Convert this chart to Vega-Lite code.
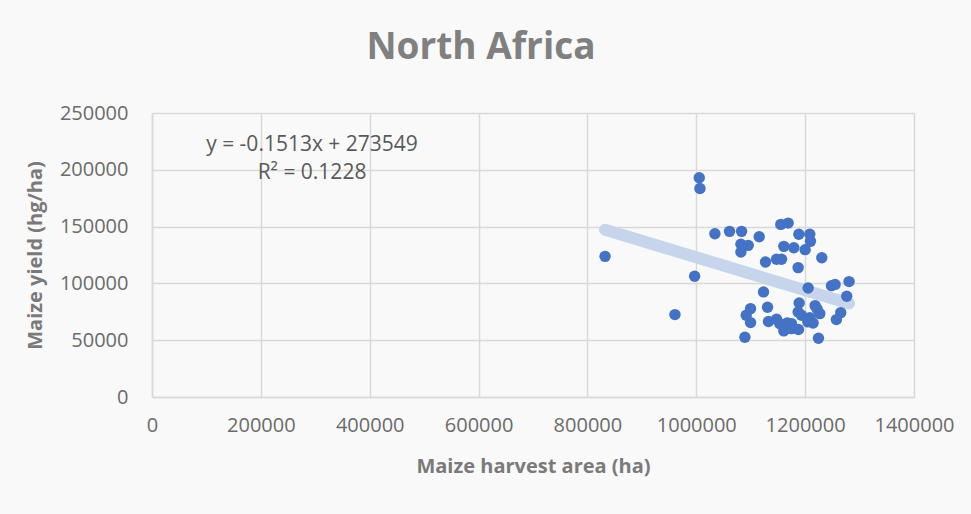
{
  "$schema": "https://vega.github.io/schema/vega-lite/v6.json",
  "autosize": {"type": "none"},
  "width": 762,
  "height": 284,
  "padding": {"left": 152, "top": 113, "right": 57, "bottom": 117},
  "background": "#f9f9f9",
  "config": {
    "font": "Open Sans",
    "view": {"stroke": null},
    "axis": {
      "gridColor": "#d9d9d9",
      "gridWidth": 1.5,
      "domainColor": "#d9d9d9",
      "domainWidth": 1.5,
      "ticks": false,
      "labelOverlap": false,
      "labelFlush": false,
      "labelFont": "Open Sans",
      "labelFontSize": 20,
      "labelColor": "#6b6b6b",
      "titleFont": "Open Sans",
      "titleFontSize": 20,
      "titleFontWeight": "bold",
      "titleColor": "#7a7a7a"
    }
  },
  "title": {
    "text": "North Africa",
    "font": "Open Sans",
    "fontSize": 37,
    "fontWeight": "bold",
    "color": "#808080",
    "anchor": "middle",
    "frame": "group",
    "dx": -52,
    "baseline": "alphabetic",
    "offset": 7
  },
  "datasets": {
    "points": [
      {"area": 1005500, "yield": 192970},
      {"area": 1006700, "yield": 183600},
      {"area": 832400, "yield": 123800},
      {"area": 996900, "yield": 106240},
      {"area": 960800, "yield": 72550},
      {"area": 1034200, "yield": 143740},
      {"area": 1061100, "yield": 145800},
      {"area": 1083200, "yield": 145800},
      {"area": 1115600, "yield": 141100},
      {"area": 1082000, "yield": 134400},
      {"area": 1095400, "yield": 133500},
      {"area": 1082000, "yield": 127600},
      {"area": 1155300, "yield": 151950},
      {"area": 1168800, "yield": 153100},
      {"area": 1188400, "yield": 143200},
      {"area": 1208500, "yield": 143200},
      {"area": 1209800, "yield": 137000},
      {"area": 1160800, "yield": 132600},
      {"area": 1179200, "yield": 131400},
      {"area": 1200000, "yield": 129700},
      {"area": 1127200, "yield": 118800},
      {"area": 1147400, "yield": 121200},
      {"area": 1156600, "yield": 121200},
      {"area": 1230600, "yield": 122600},
      {"area": 1187100, "yield": 113900},
      {"area": 1205500, "yield": 96000},
      {"area": 1123500, "yield": 92500},
      {"area": 1248300, "yield": 98000},
      {"area": 1255000, "yield": 99100},
      {"area": 1280700, "yield": 101600},
      {"area": 1276400, "yield": 88660},
      {"area": 1189000, "yield": 82800},
      {"area": 1218300, "yield": 80460},
      {"area": 1222000, "yield": 77500},
      {"area": 1226900, "yield": 73400},
      {"area": 1099700, "yield": 77800},
      {"area": 1130900, "yield": 79000},
      {"area": 1091700, "yield": 72000},
      {"area": 1099700, "yield": 65500},
      {"area": 1187100, "yield": 74900},
      {"area": 1193200, "yield": 72000},
      {"area": 1208500, "yield": 69900},
      {"area": 1214700, "yield": 65200},
      {"area": 1265400, "yield": 74300},
      {"area": 1257400, "yield": 68150},
      {"area": 1132700, "yield": 66400},
      {"area": 1147400, "yield": 68400},
      {"area": 1153500, "yield": 64600},
      {"area": 1167000, "yield": 65200},
      {"area": 1160800, "yield": 58200},
      {"area": 1174900, "yield": 60200},
      {"area": 1187700, "yield": 59400},
      {"area": 1174900, "yield": 64600},
      {"area": 1089300, "yield": 52600},
      {"area": 1224500, "yield": 51700},
      {"area": 1204900, "yield": 66100}
    ],
    "equation": [
      {"area": 294000, "yield": 221800, "label": "y = -0.1513x + 273549"},
      {"area": 294000, "yield": 197200, "label": "R² = 0.1228"}
    ]
  },
  "layer": [
    {
      "data": {"name": "points"},
      "transform": [{"regression": "yield", "on": "area"}],
      "mark": {"type": "line", "stroke": "#c6d5ec", "strokeWidth": 12, "strokeCap": "round"},
      "encoding": {
        "x": {"field": "area", "type": "quantitative"},
        "y": {"field": "yield", "type": "quantitative"}
      }
    },
    {
      "data": {"name": "points"},
      "mark": {"type": "circle", "color": "#4472c4", "opacity": 1, "size": 130},
      "encoding": {
        "x": {
          "field": "area",
          "type": "quantitative",
          "scale": {"domain": [0, 1400000], "nice": false},
          "axis": {
            "values": [0, 200000, 400000, 600000, 800000, 1000000, 1200000, 1400000],
            "format": "d",
            "labelPadding": 18,
            "title": "Maize harvest area (ha)",
            "titleY": 69,
            "titleBaseline": "middle"
          }
        },
        "y": {
          "field": "yield",
          "type": "quantitative",
          "scale": {"domain": [0, 250000], "nice": false},
          "axis": {
            "values": [0, 50000, 100000, 150000, 200000, 250000],
            "format": "d",
            "labelPadding": 24,
            "title": "Maize yield (hg/ha)",
            "titleX": -117,
            "titleY": 142,
            "titleAngle": 270,
            "titleBaseline": "middle"
          }
        }
      }
    },
    {
      "data": {"name": "equation"},
      "mark": {"type": "text", "font": "Open Sans", "fontSize": 21, "color": "#595959", "align": "center", "baseline": "middle"},
      "encoding": {
        "x": {"field": "area", "type": "quantitative"},
        "y": {"field": "yield", "type": "quantitative"},
        "text": {"field": "label"}
      }
    }
  ]
}
